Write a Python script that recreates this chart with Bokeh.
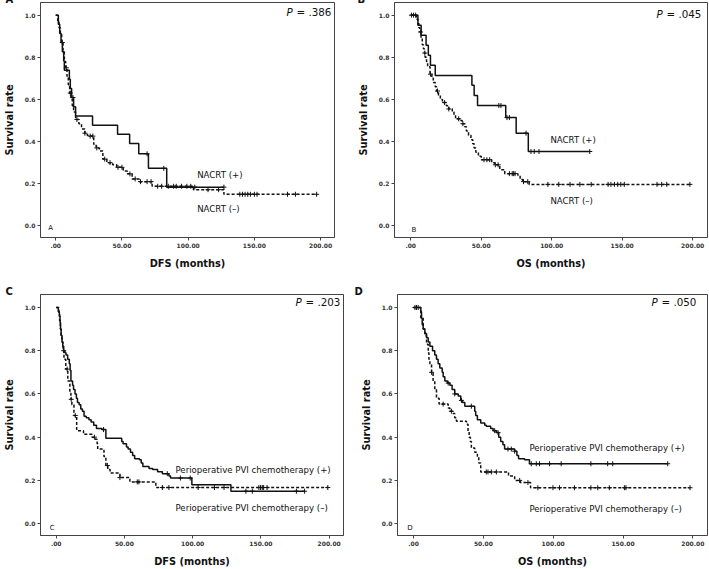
import numpy as np
from bokeh.plotting import figure
from bokeh.layouts import column, row
from bokeh.models import Label, FixedTicker, Range1d
from bokeh.embed import file_html
from bokeh.resources import INLINE

FONT = "DejaVu Sans"
INK = "#111111"
FRAME = "#444444"

x_ticks = [0, 50, 100, 150, 200]
x_tick_labels = [".00", "50.00", "100.00", "150.00", "200.00"]
y_ticks = [0.0, 0.2, 0.4, 0.6, 0.8, 1.0]
y_tick_labels = ["0.0", "0.2", "0.4", "0.6", "0.8", "1.0"]

# ---------------- Panel A : DFS by NACRT ----------------
a_pos_times = [2, 3, 4, 5, 6, 6.5, 10.3, 11, 12, 13.5, 15, 27.8, 46.7, 55.8, 62.7, 70, 83.8]
a_pos_surv = [0.957, 0.913, 0.870, 0.826, 0.783, 0.739, 0.696, 0.652, 0.609, 0.565, 0.522,
              0.478, 0.435, 0.391, 0.342, 0.273, 0.184]
a_pos_end = 127
a_pos_cens = [13, 69, 81.6, 105, 127]

a_neg_times = [1.5, 2.5, 3.5, 4.5, 5.5, 6.5, 7.5, 8.5, 9.5, 10.5, 11.5, 12.5, 13.5, 15, 17.5,
               19.5, 22, 23.8, 25.8, 28.7, 30.5, 33, 35.6, 38.6, 43, 46, 51, 54, 57.7, 63,
               72.8, 104, 127]
a_neg_surv = [0.97, 0.94, 0.91, 0.87, 0.83, 0.78, 0.75, 0.71, 0.67, 0.63, 0.60, 0.57, 0.54,
              0.505, 0.485, 0.46, 0.44, 0.43, 0.426, 0.387, 0.37, 0.356, 0.317, 0.30, 0.29,
              0.278, 0.26, 0.247, 0.223, 0.21, 0.188, 0.172, 0.15]
a_neg_end = 197
a_neg_cens = [5, 8, 11, 16, 22, 26, 28, 31, 37, 41, 47, 50, 56, 60, 64, 69, 72, 77, 80, 85,
              89, 91, 95, 99, 102, 115, 123, 139, 141, 143, 145, 147, 150, 152, 175, 181, 197]

# ---------------- Panel B : OS by NACRT ----------------
b_pos_times = [5.1, 7.4, 10.9, 12.5, 14, 17.4, 43.4, 45, 47.4, 67.4, 74.8, 83.4]
b_pos_surv = [0.952, 0.905, 0.857, 0.810, 0.762, 0.714, 0.667, 0.619, 0.571, 0.514, 0.440, 0.353]
b_pos_end = 127
b_pos_cens = [62.5, 64, 68.3, 70, 81.8, 85.3, 87.6, 91, 127]

b_neg_times = [4, 5, 5.8, 6.5, 7.3, 8.2, 9, 9.7, 10.2, 11.2, 12, 13.7, 15, 16, 17.4, 18.4,
               19.7, 21, 22.5, 25.3, 27, 29.5, 30.7, 31.8, 35.3, 36.5, 38.3, 39.5, 41, 42.7,
               44, 45, 46.2, 48, 50, 57.4, 59.7, 63.2, 66.7, 76, 77.6, 79.5, 84]
b_neg_surv = [0.98, 0.96, 0.94, 0.92, 0.89, 0.86, 0.84, 0.82, 0.80, 0.78, 0.755, 0.72, 0.70,
              0.68, 0.66, 0.64, 0.62, 0.60, 0.585, 0.57, 0.555, 0.54, 0.525, 0.508, 0.50,
              0.485, 0.47, 0.45, 0.43, 0.409, 0.39, 0.37, 0.35, 0.33, 0.314, 0.30, 0.29,
              0.267, 0.248, 0.24, 0.22, 0.21, 0.197]
b_neg_end = 198
b_neg_cens = [0.5, 2, 3.5, 7, 10, 14, 19, 24, 27, 34, 37, 52, 54, 56, 60, 62, 70, 72, 73, 74,
              80, 83, 97.3, 105, 113, 120, 128, 140, 142, 144.5, 146.8, 149, 151.5, 174.7,
              178, 181.6, 198]

# ---------------- Panel C : DFS by perioperative PVI chemotherapy ----------------
c_pos_times = [1.5, 2.3, 2.8, 3.2, 3.6, 4.3, 4.8, 5.5, 6.4, 7.2, 8.4, 9.6, 10.2, 10.8, 12,
               12.7, 13.8, 14.8, 15.6, 16.8, 18, 19.2, 20.4, 22, 24, 25.6, 27.5, 29.5, 33.5,
               36.4, 48, 49, 51.5, 52.7, 54.4, 56, 57.5, 61, 62.3, 63.5, 68, 70.7, 74.3,
               77.8, 82.6, 83.8, 99.4, 128]
c_pos_surv = [0.98, 0.96, 0.93, 0.90, 0.87, 0.84, 0.82, 0.80, 0.79, 0.78, 0.76, 0.74, 0.71,
              0.66, 0.64, 0.62, 0.60, 0.58, 0.56, 0.55, 0.53, 0.52, 0.497, 0.49, 0.48, 0.47,
              0.455, 0.44, 0.435, 0.395, 0.38, 0.37, 0.355, 0.345, 0.33, 0.315, 0.30, 0.295,
              0.28, 0.264, 0.255, 0.25, 0.24, 0.231, 0.22, 0.211, 0.18, 0.15]
c_pos_end = 182
c_pos_cens = [34.7, 81.4, 91, 98.2, 139, 143.7, 176, 182]

c_neg_times = [2, 2.5, 3, 3.6, 4.2, 5, 5.7, 7, 8.5, 10, 10.8, 11.5, 13, 15, 20, 26.3, 28.7,
               30, 30.4, 35, 36.4, 37.8, 39.5, 46.7, 54, 73]
c_neg_surv = [0.97, 0.94, 0.90, 0.87, 0.84, 0.80, 0.76, 0.715, 0.66, 0.603, 0.575, 0.55,
              0.50, 0.43, 0.413, 0.40, 0.39, 0.37, 0.345, 0.31, 0.269, 0.25, 0.234, 0.213,
              0.193, 0.167]
c_neg_end = 199
c_neg_cens = [5.5, 8, 11, 14, 28, 37.5, 46.7, 59.4, 60.6, 77.8, 82.6, 104, 116, 123, 148.5,
              149.7, 151, 152, 154.5, 199]

# ---------------- Panel D : OS by perioperative PVI chemotherapy ----------------
d_pos_times = [5.2, 5.7, 6.2, 6.9, 8.1, 9.3, 10.5, 11.7, 13.6, 15.2, 16.4, 17.6, 18.8, 20.5,
               21.2, 22.4, 24.3, 26, 27.6, 29.5, 32, 33.8, 35, 36.7, 43.8, 44.5, 45.7, 48.1,
               51, 52.1, 55.2, 57, 59.3, 61, 62.4, 64, 65.2, 72.4, 74, 75.2, 79.5, 83]
d_pos_surv = [0.98, 0.95, 0.92, 0.90, 0.88, 0.86, 0.84, 0.82, 0.80, 0.78, 0.76, 0.74, 0.72,
              0.70, 0.68, 0.66, 0.65, 0.64, 0.62, 0.60, 0.59, 0.57, 0.56, 0.543, 0.52, 0.50,
              0.48, 0.465, 0.455, 0.45, 0.44, 0.43, 0.421, 0.40, 0.38, 0.365, 0.345, 0.335,
              0.315, 0.30, 0.295, 0.277]
d_pos_end = 182
d_pos_cens = [1, 2.1, 3.3, 24.8, 29.5, 34.3, 41.4, 58.1, 60.5, 67.6, 70, 72.4, 84.3, 87.9,
              90.2, 97.4, 105.7, 127, 139, 142.6, 182]

d_neg_times = [5.2, 6.9, 8.1, 9.3, 10.5, 11, 11.7, 12.9, 14, 15.2, 16.4, 18.3, 24.8, 26,
               27.9, 29.5, 30.7, 37.9, 39, 39.8, 40.7, 41.4, 43.8, 45.7, 46.7, 48.1, 68,
               72.4, 76.4, 83.8]
d_neg_surv = [0.95, 0.90, 0.87, 0.83, 0.79, 0.76, 0.74, 0.70, 0.66, 0.62, 0.58, 0.553,
              0.535, 0.52, 0.51, 0.49, 0.474, 0.46, 0.427, 0.40, 0.38, 0.35, 0.33, 0.31,
              0.28, 0.239, 0.22, 0.20, 0.19, 0.166]
d_neg_end = 198
d_neg_cens = [12.9, 21.2, 27.1, 52.1, 53.3, 55.7, 59.3, 76, 81.9, 89, 99.8, 104.5, 115.2,
              127, 131.9, 140.2, 151, 152.1, 198]

nacrt_labels = ["NACRT (+)", "NACRT (–)"]
pvi_labels = ["Perioperative PVI chemotherapy (+)", "Perioperative PVI chemotherapy (–)"]
p_values = ["= .386", "= .045", "= .203", "= .050"]
x_titles = ["DFS (months)", "OS (months)", "DFS (months)", "OS (months)"]
panel_letters = ["A", "B", "C", "D"]


def surv_at(times, surv, t):
    i = int(np.searchsorted(np.asarray(times), t, side="right"))
    return 1.0 if i == 0 else surv[i - 1]


def draw_curve(p, times, surv, end, cens, dashed):
    xs = [0.0] + list(times) + [end]
    ys = [1.0] + list(surv) + [surv[-1]]
    kw = dict(line_color=INK, line_width=1.5)
    if dashed:
        kw["line_dash"] = "3 2"
    p.step(xs, ys, mode="after", **kw)
    cy = [surv_at(times, surv, c) for c in cens]
    p.scatter(cens, cy, marker="cross", size=5, line_color=INK, line_width=1)


def make_panel(idx, w, h, bl, br, bt, bb, pos, neg, labels, lab_pos, inner_xy,
               title_offset, title_standoff):
    p = figure(width=w, height=h, x_range=Range1d(-11.5, 210.5), y_range=Range1d(-0.055, 1.06),
               output_backend="svg", toolbar_location=None,
               min_border_left=bl, min_border_right=br, min_border_top=bt, min_border_bottom=bb)
    p.grid.visible = False
    p.outline_line_color = FRAME
    p.outline_line_width = 1
    p.background_fill_color = "white"
    p.border_fill_color = "white"

    # outer panel letter, drawn as the figure title
    p.title.text = panel_letters[idx]
    p.title.align = "left"
    p.title.vertical_align = "top"
    p.title.offset = title_offset
    p.title.standoff = title_standoff
    p.title.text_font = FONT
    p.title.text_font_size = "10px"
    p.title.text_font_style = "bold"
    p.title.text_color = INK
    try:
        p.title.padding = 2
    except Exception:
        pass

    for ax in (p.xaxis[0], p.yaxis[0]):
        ax.axis_line_color = FRAME
        ax.major_tick_line_color = FRAME
        ax.major_tick_out = 3
        ax.major_tick_in = 0
        ax.minor_tick_out = 0
        ax.minor_tick_in = 0
        ax.major_label_text_font = FONT
        ax.major_label_text_font_size = "6px"
        ax.major_label_text_color = "#333333"
        ax.major_label_text_font_style = "bold"
        ax.major_label_standoff = 2
        ax.axis_label_text_font = FONT
        ax.axis_label_text_font_size = "9.8px"
        ax.axis_label_text_font_style = "bold"
        ax.axis_label_text_color = INK

    p.xaxis.ticker = FixedTicker(ticks=x_ticks)
    p.xaxis.major_label_overrides = {t: l for t, l in zip(x_ticks, x_tick_labels)}
    p.yaxis.ticker = FixedTicker(ticks=y_ticks)
    p.yaxis.major_label_overrides = {t: l for t, l in zip(y_ticks, y_tick_labels)}
    p.xaxis.axis_label = x_titles[idx]
    p.yaxis.axis_label = "Survival rate"
    p.xaxis.axis_label_standoff = 7
    p.yaxis.axis_label_standoff = 7

    draw_curve(p, *pos, dashed=False)
    draw_curve(p, *neg, dashed=True)

    for text, (lx, ly) in zip(labels, lab_pos):
        p.add_layout(Label(x=lx, y=ly, text=text, text_font=FONT, text_font_size="8.6px",
                           text_color=INK, text_baseline="middle", text_align="left"))

    fw = w - bl - br
    fh = h - bt - bb
    p.add_layout(Label(x=fw - 56, y=fh - 11, x_units="screen", y_units="screen", text="P",
                       text_font=FONT, text_font_size="10.3px", text_font_style="italic",
                       text_color=INK, text_baseline="middle", text_align="left"))
    p.add_layout(Label(x=fw - 46, y=fh - 11, x_units="screen", y_units="screen",
                       text=p_values[idx], text_font=FONT, text_font_size="10.3px",
                       text_color=INK, text_baseline="middle", text_align="left"))
    p.add_layout(Label(x=inner_xy[0], y=inner_xy[1], text=panel_letters[idx], text_font=FONT,
                       text_font_size="7px", text_color=INK, text_baseline="middle",
                       text_align="left"))
    return p


pA = make_panel(0, 354, 284, 32, 20, 1, 46,
                (a_pos_times, a_pos_surv, a_pos_end, a_pos_cens),
                (a_neg_times, a_neg_surv, a_neg_end, a_neg_cens),
                nacrt_labels, [(106.8, 0.242), (106.8, 0.078)], (-5.6, -0.011), -37, -22)
pB = make_panel(1, 355, 284, 35, 2, 2, 47,
                (b_pos_times, b_pos_surv, b_pos_end, b_pos_cens),
                (b_neg_times, b_neg_surv, b_neg_end, b_neg_cens),
                nacrt_labels, [(99.1, 0.409), (99.1, 0.119)], (0.5, -0.019), -39, -22)
pC = make_panel(2, 354, 285, 32, 11, 10, 30,
                (c_pos_times, c_pos_surv, c_pos_end, c_pos_cens),
                (c_neg_times, c_neg_surv, c_neg_end, c_neg_cens),
                pvi_labels, [(87.4, 0.246), (87.4, 0.071)], (-4.8, -0.02), -37, -12)
pD = make_panel(3, 355, 285, 43, 2, 10, 30,
                (d_pos_times, d_pos_surv, d_pos_end, d_pos_cens),
                (d_neg_times, d_neg_surv, d_neg_end, d_neg_cens),
                pvi_labels, [(83.0, 0.352), (83.0, 0.067)], (-4.5, -0.02), -45, -12)

layout = column(row(pA, pB, spacing=0), row(pC, pD, spacing=0), spacing=0)
open("out.html", "w").write(file_html(layout, INLINE))
